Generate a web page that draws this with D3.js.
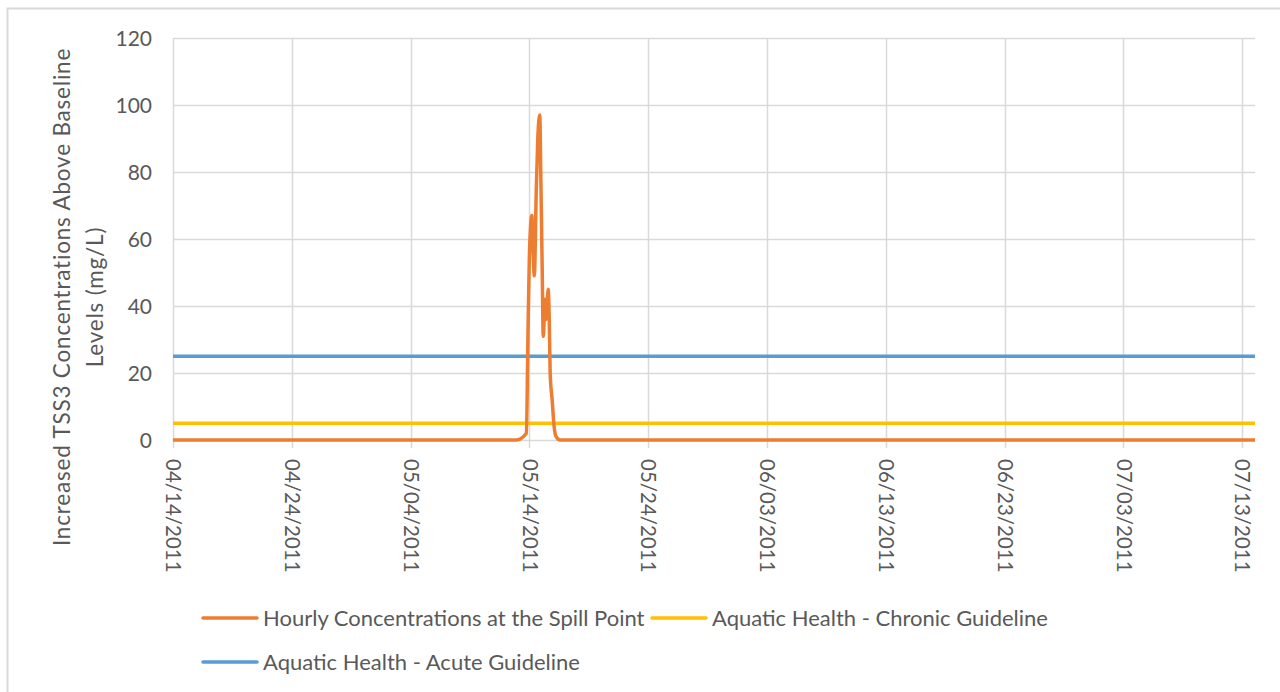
<!DOCTYPE html>
<html lang="en">
  <head>
    <meta charset="UTF-8">
    <title>TSS3 Concentrations</title>
    <style>
body{
    margin: 0;
    background: #fff;
}
svg{
    display: block;
    font-family: Lato, "Open Sans", sans-serif;
}
    </style>
  </head>
  <body>
    <script src="https://cdn.jsdelivr.net/npm/d3@7/dist/d3.min.js" charset="UTF-8"></script>
    <script>
// hourly spill point concentrations (zero outside the event)
var spillTimes = ["04/14/2011 00:00", "05/12/2011 22:00", "05/13/2011 18:00", "05/13/2011 21:00",
                  "05/14/2011 00:00", "05/14/2011 05:00", "05/14/2011 07:00", "05/14/2011 10:00",
                  "05/14/2011 14:00", "05/14/2011 17:00", "05/14/2011 21:00", "05/14/2011 23:00",
                  "05/15/2011 02:00", "05/15/2011 04:00", "05/15/2011 08:00", "05/15/2011 10:00",
                  "05/15/2011 14:00", "05/15/2011 16:00", "05/15/2011 18:00", "05/15/2011 22:00",
                  "05/16/2011 02:00", "05/16/2011 06:00", "05/16/2011 14:00", "07/14/2011 02:00"];
var spillValues = [0, 0, 2, 30,
                   55, 67, 58, 49,
                   75, 90, 97, 80,
                   50, 31, 42, 36,
                   45, 37, 20, 12,
                   4, 1, 0, 0];
var chronicValue = 5;
var acuteValue = 25;
var xTickLabels = ["04/14/2011", "04/24/2011", "05/04/2011", "05/14/2011", "05/24/2011",
                   "06/03/2011", "06/13/2011", "06/23/2011", "07/03/2011", "07/13/2011"];
var yTicks = [0, 20, 40, 60, 80, 100, 120];
var seriesNames = ["Hourly Concentrations at the Spill Point", "Aquatic Health - Chronic Guideline",
                   "Aquatic Health - Acute Guideline"];
var seriesColors = ["#ED7D31", "#FFC000", "#5B9BD5"];

var width = 1280, height = 692;
var plotLeft = 173, plotRight = 1255, plotTop = 38, plotBottom = 440;
var parse = d3.timeParse("%m/%d/%Y %H:%M");
var parseDay = d3.timeParse("%m/%d/%Y");

var spill = spillTimes.map(function(t, i){ return {t: parse(t), v: spillValues[i]}; });
var start = spill[0].t, end = spill[spill.length - 1].t;

var x = d3.scaleTime().domain([start, end]).range([plotLeft, plotRight]);
var y = d3.scaleLinear().domain([0, 120]).range([plotBottom, plotTop]);

var svg = d3.select("body").append("svg")
            .attr("width", width)
            .attr("height", height);

// chart frame
svg.append("path")
   .attr("d", "M7.5," + height + "V8.5H" + width)
   .attr("fill", "none")
   .attr("stroke", "#d9d9d9")
   .attr("stroke-width", 2);

// gridlines
var xTicks = xTickLabels.map(function(s){ return parseDay(s); });
svg.append("g").selectAll("line").data(yTicks).enter().append("line")
   .attr("x1", plotLeft).attr("x2", plotRight)
   .attr("y1", function(d){ return Math.round(y(d)) + 0.5; })
   .attr("y2", function(d){ return Math.round(y(d)) + 0.5; })
   .attr("stroke", "#d9d9d9").attr("stroke-width", 1.5);
svg.append("g").selectAll("line").data(xTicks).enter().append("line")
   .attr("x1", function(d){ return Math.round(x(d)) + 0.5; })
   .attr("x2", function(d){ return Math.round(x(d)) + 0.5; })
   .attr("y1", plotTop).attr("y2", plotBottom + 8)
   .attr("stroke", "#d9d9d9").attr("stroke-width", 1.5);

// y axis labels
var yAxis = svg.append("g")
               .attr("transform", "translate(" + (plotLeft - 21) + ",0)")
               .call(d3.axisLeft(y).tickValues(yTicks).tickSize(0).tickPadding(0));
yAxis.select(".domain").remove();
yAxis.selectAll("text")
     .attr("font-family", "Lato, 'Open Sans', sans-serif")
     .attr("font-size", 21)
     .attr("fill", "#595959")
     .attr("dy", "0.35em");

// x axis labels, rotated
var xAxis = svg.append("g")
               .attr("transform", "translate(0," + (plotBottom + 19) + ")")
               .call(d3.axisBottom(x).tickValues(xTicks).tickFormat(d3.timeFormat("%m/%d/%Y")).tickSize(0));
xAxis.select(".domain").remove();
xAxis.selectAll("text")
     .attr("font-family", "Lato, 'Open Sans', sans-serif")
     .attr("font-size", 20.5)
     .attr("fill", "#595959")
     .attr("transform", "rotate(90)")
     .attr("x", 0).attr("y", 0)
     .attr("dy", "0.35em")
     .attr("text-anchor", "start");

// y axis title
var title = svg.append("text")
               .attr("transform", "translate(62,297) rotate(-90)")
               .attr("text-anchor", "middle")
               .attr("font-size", 22.5)
               .attr("letter-spacing", 0.8)
               .attr("fill", "#595959");
title.append("tspan").attr("x", 0).attr("dy", "0.35em").text("Increased TSS3 Concentrations Above Baseline");
title.append("tspan").attr("x", 0).attr("dy", "1.45em").text("Levels (mg/L)");

// series
var line = d3.line().x(function(d){ return x(d.t); }).y(function(d){ return y(d.v); }).curve(d3.curveMonotoneX);
svg.append("path").datum([{t: start, v: acuteValue}, {t: end, v: acuteValue}])
   .attr("d", line).attr("fill", "none").attr("stroke", seriesColors[2]).attr("stroke-width", 3.5);
svg.append("path").datum([{t: start, v: chronicValue}, {t: end, v: chronicValue}])
   .attr("d", line).attr("fill", "none").attr("stroke", seriesColors[1]).attr("stroke-width", 3.5);
svg.append("path").datum(spill)
   .attr("d", line).attr("fill", "none").attr("stroke", seriesColors[0])
   .attr("stroke-width", 3.5).attr("stroke-linejoin", "round");

// legend
var legendPos = [[203, 618], [652, 618], [203, 662]];
var legend = svg.append("g").selectAll("g").data(seriesNames).enter().append("g")
                .attr("transform", function(d, i){ return "translate(" + legendPos[i][0] + "," + legendPos[i][1] + ")"; });
legend.append("line")
      .attr("x1", 0).attr("x2", 54)
      .attr("stroke", function(d, i){ return seriesColors[i]; })
      .attr("stroke-width", 3.5).attr("stroke-linecap", "round");
legend.append("text")
      .attr("x", 60).attr("dy", "0.35em")
      .attr("font-size", 22)
      .attr("fill", "#595959")
      .text(function(d){ return d; });
    </script>
  </body>
</html>
